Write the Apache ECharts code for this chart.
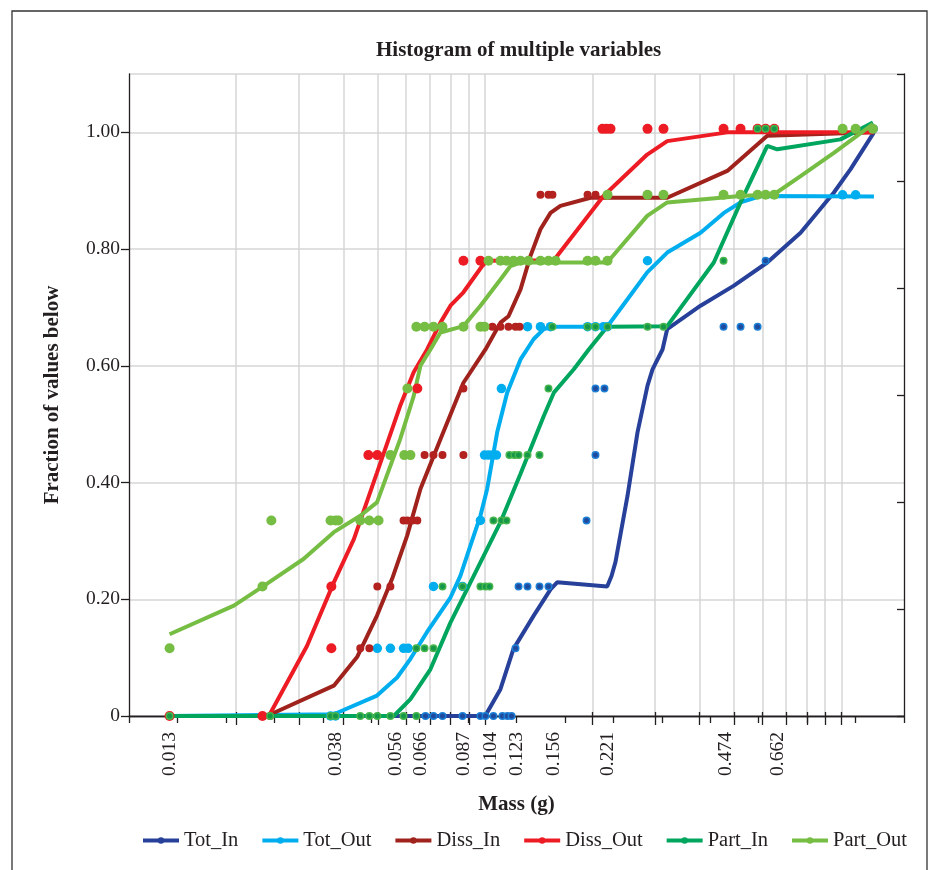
<!DOCTYPE html>
<html>
<head>
<meta charset="utf-8">
<script src="https://cdn.jsdelivr.net/npm/echarts@6.0.0/dist/echarts.min.js"></script>
<style>
  html, body { margin: 0; padding: 0; background: #fff; }
  #chart { width: 940px; height: 870px; }
</style>
</head>
<body>
<div id="chart"></div>
<script>
// y levels of the histogram points (fraction of values below)
const fracLevels = [0, 0.116, 0.222, 0.335, 0.447, 0.561, 0.667, 0.780, 0.893, 1.006];

// labelled masses on the x axis, and minor log ticks / grid lines
const massLabels = [0.013, 0.038, 0.056, 0.066, 0.087, 0.104, 0.123, 0.156, 0.221, 0.474, 0.662];
const massTicks = [0.02, 0.03, 0.04, 0.05, 0.06, 0.07, 0.08, 0.09, 0.1,
  0.2, 0.3, 0.4, 0.5, 0.6, 0.7, 0.8, 0.9, 1.0];

const names = ['Tot_In', 'Tot_Out', 'Diss_In', 'Diss_Out', 'Part_In', 'Part_Out'];

// curves  [mass, fraction]
const totInLine = [[0.013, 0], [0.1, 0], [0.1104, 0.046], [0.1201, 0.115], [0.1369, 0.172], [0.1526, 0.217],
  [0.1593, 0.229], [0.2201, 0.222], [0.2264, 0.240], [0.2323, 0.264], [0.251, 0.377], [0.2678, 0.486],
  [0.2857, 0.566], [0.2951, 0.594], [0.3148, 0.628], [0.3245, 0.663], [0.4026, 0.703], [0.4983, 0.737],
  [0.6197, 0.777], [0.7686, 0.828], [0.9533, 0.897], [1.062, 0.937], [1.235, 1.0]];
const totOutLine = [[0.013, 0], [0.0376, 0.003], [0.0497, 0.035], [0.0566, 0.066], [0.0617, 0.098], [0.0687, 0.144],
  [0.0799, 0.203], [0.0852, 0.240], [0.0909, 0.292], [0.097, 0.343], [0.1013, 0.389], [0.1081, 0.486],
  [0.1153, 0.554], [0.1257, 0.611], [0.1369, 0.646], [0.1461, 0.663], [0.1559, 0.667], [0.2201, 0.667],
  [0.251, 0.714], [0.2851, 0.760], [0.3245, 0.794], [0.4026, 0.828], [0.468, 0.862], [0.5214, 0.880],
  [0.5935, 0.891], [1.235, 0.890]];
const dissInLine = [[0.013, 0], [0.0244, 0], [0.0376, 0.052], [0.0437, 0.101], [0.0497, 0.172], [0.0548, 0.235],
  [0.0604, 0.309], [0.0658, 0.389], [0.0749, 0.474], [0.0869, 0.571], [0.1002, 0.628], [0.1104, 0.674],
  [0.1163, 0.685], [0.1257, 0.731], [0.134, 0.788], [0.143, 0.834], [0.1526, 0.862], [0.1627, 0.874],
  [0.1976, 0.888], [0.3245, 0.888], [0.4784, 0.934], [0.6197, 0.994], [1.235, 1.0]];
const dissOutLine = [[0.013, 0], [0.0247, 0], [0.0316, 0.120], [0.0376, 0.229], [0.0428, 0.303], [0.0497, 0.417],
  [0.0577, 0.531], [0.063, 0.589], [0.0687, 0.628], [0.0749, 0.674], [0.0799, 0.703], [0.0869, 0.726],
  [0.0981, 0.771], [0.1013, 0.780], [0.1559, 0.781], [0.2149, 0.891], [0.2851, 0.962], [0.3245, 0.985],
  [0.4784, 1.0], [1.235, 1.0]];
const partInLine = [[0.013, 0], [0.0554, 0], [0.0617, 0.029], [0.0702, 0.080], [0.0799, 0.160], [0.0929, 0.240],
  [0.1104, 0.332], [0.1257, 0.415], [0.1461, 0.514], [0.1559, 0.554], [0.1774, 0.594], [0.1954, 0.628],
  [0.2201, 0.667], [0.3245, 0.668], [0.4386, 0.777], [0.5214, 0.880], [0.6197, 0.977], [0.661, 0.971],
  [0.9954, 0.988], [1.227, 1.017]];
const partOutLine = [[0.013, 0.140], [0.0197, 0.189], [0.0239, 0.223], [0.0309, 0.269], [0.0376, 0.315],
  [0.0446, 0.343], [0.0497, 0.366], [0.0577, 0.474], [0.063, 0.548], [0.0658, 0.600], [0.0702, 0.628],
  [0.0749, 0.657], [0.0869, 0.668], [0.097, 0.703], [0.1104, 0.748], [0.1178, 0.771], [0.1257, 0.777],
  [0.2201, 0.777], [0.2851, 0.857], [0.3245, 0.880], [0.5214, 0.891], [0.648, 0.894], [0.7686, 0.925],
  [0.9533, 0.965], [1.227, 1.014]];

// sample points: masses per level (index = fracLevels index)
const totInPts = [
  [0.068, 0.0716, 0.0759, 0.0864, 0.097, 0.1002, 0.1055, 0.1118, 0.1155, 0.1186],
  [0.1217], [0.1241, 0.1315, 0.1421, 0.1506], [0.1926], [0.2041], [0.2041, 0.2163],
  [0.4671, 0.5214, 0.5821], [0.613], [], [1.235]];
const totOutPts = [
  [0.0368, 0.038], [0.0498, 0.0542, 0.059, 0.0608], [0.0716, 0.0864], [0.097],
  [0.0996, 0.1022, 0.1048, 0.1076], [0.1111],
  [0.1315, 0.143, 0.1526, 0.1939, 0.2041, 0.2149, 0.2206], [0.2857], [1.0085, 1.097], []];
const dissInPts = [
  [0.0237, 0.0249], [0.0446, 0.0473], [0.0498, 0.0542], [0.059, 0.0605, 0.0625, 0.0645],
  [0.0676, 0.0716, 0.0759, 0.0869], [0.0869], [0.1048, 0.1104, 0.1163, 0.1217, 0.1249], [],
  [0.143, 0.1506, 0.1545, 0.1939, 0.2041], []];
const dissOutPts = [
  [0.013, 0.0237], [0.037], [0.037], [], [0.047, 0.0498], [0.0645], [], [0.0869, 0.097], [],
  [0.2135, 0.219, 0.2249, 0.2857, 0.3168, 0.4671, 0.5214, 0.5821, 0.613, 0.6483]];
const partInPts = [
  [0.013, 0.0249, 0.0368, 0.038, 0.0446, 0.0473, 0.0498, 0.0542, 0.059, 0.0641],
  [0.0641, 0.0676, 0.0716], [0.0759, 0.0864, 0.097, 0.1002, 0.1028], [0.1055, 0.1111, 0.1148],
  [0.117, 0.1209, 0.1241, 0.1315, 0.1421], [0.1506],
  [0.1545, 0.1939, 0.2041, 0.2206, 0.2857, 0.3168], [0.4671], [], [0.5821, 0.613, 0.6483]];
const partOutPts = [
  [], [0.013], [0.0237], [0.0251, 0.0368, 0.038, 0.0387, 0.0446, 0.0473, 0.0502],
  [0.0542, 0.0593, 0.0617], [0.0605],
  [0.0641, 0.0676, 0.0716, 0.0759, 0.0869, 0.097, 0.0996],
  [0.1022, 0.1104, 0.1148, 0.1201, 0.1257, 0.1323, 0.143, 0.1506, 0.1576, 0.1939, 0.2041, 0.2206],
  [0.2206, 0.2857, 0.3168, 0.4671, 0.5214, 0.5821, 0.613, 0.6483],
  [1.0085, 1.097, 1.227]];

const lines = [totInLine, totOutLine, dissInLine, dissOutLine, partInLine, partOutLine];
const points = [totInPts, totOutPts, dissInPts, dissOutPts, partInPts, partOutPts];
const colors = ['#27409a', '#00aeef', '#a0221c', '#ed1c24', '#00a55e', '#76bd43'];
// marker look per series: [size, fill, border]
const marks = [
  [6.5, '#1f4b9e', '#1b7fd6'],
  [9.5, '#00aeef', '#00aeef'],
  [6.5, '#b3221f', '#b3221f'],
  [10, '#ed1c24', '#ed1c24'],
  [6.5, '#15974a', '#45b54c'],
  [10, '#76bd43', '#76bd43']
];

const FONT = 'Liberation Serif';
const INK = '#231f20';
const GRID = '#d6d6d6';

function toPoints(levels) {
  const out = [];
  levels.forEach((xs, i) => xs.forEach(x => out.push([x, fracLevels[i]])));
  return out;
}

const series = [];
names.forEach((n, i) => {
  series.push({
    name: n, type: 'line', data: lines[i], z: 2,
    symbol: 'circle', symbolSize: 6, showSymbol: false,
    lineStyle: { color: colors[i], width: 4 },
    itemStyle: { color: colors[i] },
    animation: false
  });
});
names.forEach((n, i) => {
  series.push({
    name: n, type: 'scatter', data: toPoints(points[i]), z: 3,
    symbolSize: marks[i][0],
    itemStyle: { color: marks[i][1], borderColor: marks[i][2], borderWidth: marks[i][0] < 8 ? 1.5 : 0, opacity: 1 },
    animation: false
  });
});

const chart = echarts.init(document.getElementById('chart'));
chart.setOption({
  backgroundColor: '#fff',
  textStyle: { fontFamily: FONT, color: INK },
  title: {
    text: 'Histogram of multiple variables', left: 371, top: 35,
    textStyle: { fontFamily: FONT, fontSize: 21, fontWeight: 'bold', color: INK }
  },
  legend: {
    data: names, top: 825, left: 136, itemWidth: 36, itemHeight: 8, itemGap: 22,
    lineStyle: { width: 4 },
    textStyle: { fontFamily: FONT, fontSize: 20.5, color: INK }
  },
  grid: { left: 129, right: 36, top: 74, bottom: 154, outerBoundsMode: 'none' },
  xAxis: [{
    type: 'log', logBase: 10, min: 0.01, max: 1.5, position: 'bottom',
    name: 'Mass (g)', nameLocation: 'middle', nameGap: 78,
    nameTextStyle: { fontFamily: FONT, fontSize: 21, fontWeight: 'bold', color: INK },
    axisLine: { lineStyle: { color: INK, width: 1.3 } },
    axisTick: { customValues: massTicks, length: 9, lineStyle: { color: INK, width: 1.3 } },
    axisLabel: {
      customValues: massLabels, rotate: 90, margin: 16,
      fontFamily: FONT, fontSize: 19.5, color: INK,
      formatter: v => Number(v).toFixed(3)
    },
    splitLine: { show: true, lineStyle: { color: GRID, width: 1.5 } },
    minorTick: { show: false }
  }, {
    type: 'value', position: 'top', min: 0, max: 16, interval: 1,
    axisLine: { lineStyle: { color: INK, width: 1.3 } },
    axisTick: { inside: true, length: 7, lineStyle: { color: INK, width: 1.3 } },
    axisLabel: { show: false }, splitLine: { show: false }
  }, {
    // inner half of the crossing bottom ticks
    type: 'log', logBase: 10, min: 0.01, max: 1.5, position: 'bottom',
    axisLine: { show: false },
    axisTick: { customValues: massTicks, inside: true, length: 4, lineStyle: { color: INK, width: 1.3 } },
    axisLabel: { show: false }, splitLine: { show: false }
  }],
  yAxis: [{
    type: 'value', min: 0, max: 1.1, interval: 0.2,
    name: 'Fraction of values below', nameLocation: 'middle', nameGap: 66,
    nameTextStyle: { fontFamily: FONT, fontSize: 21, fontWeight: 'bold', color: INK },
    axisLine: { show: true, lineStyle: { color: INK, width: 1.3 } },
    axisTick: { show: true, length: 8, lineStyle: { color: INK, width: 1.3 } },
    axisLabel: {
      showMaxLabel: false, margin: 9, fontFamily: FONT, fontSize: 19.5, color: INK,
      formatter: v => v === 0 ? '0' : v.toFixed(2)
    },
    splitLine: { show: true, lineStyle: { color: GRID, width: 1.5 } }
  }, {
    type: 'value', position: 'right', min: 0, max: 6, interval: 1,
    axisLine: { show: true, lineStyle: { color: INK, width: 1.3 } },
    axisTick: { show: true, inside: true, length: 7, lineStyle: { color: INK, width: 1.3 } },
    axisLabel: { show: false }, splitLine: { show: false }
  }],
  graphic: [{
    type: 'rect', silent: true,
    shape: { x: 12, y: 11, width: 915, height: 900 },
    style: { fill: 'none', stroke: '#333', lineWidth: 1.3 }
  }],
  series: series
});
</script>
</body>
</html>
